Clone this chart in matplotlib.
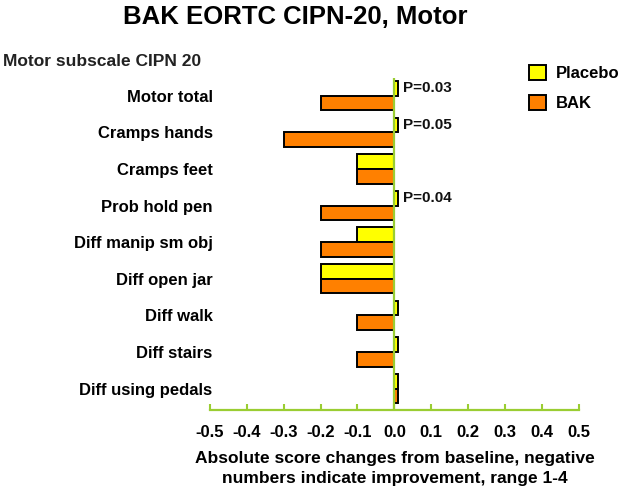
import matplotlib

matplotlib.use("Agg")
import matplotlib.pyplot as plt
from matplotlib.patches import Patch

plt.rcParams["font.family"] = ["Liberation Sans", "DejaVu Sans"]
plt.rcParams["font.weight"] = "bold"

categories = [
    "Motor total",
    "Cramps hands",
    "Cramps feet",
    "Prob hold pen",
    "Diff manip sm obj",
    "Diff open jar",
    "Diff walk",
    "Diff stairs",
    "Diff using pedals",
]
placebo = [0.01, 0.01, -0.1, 0.01, -0.1, -0.2, 0.01, 0.01, 0.01]
bak = [-0.2, -0.3, -0.1, -0.2, -0.2, -0.2, -0.1, -0.1, 0.01]
p_labels = {0: "P=0.03", 1: "P=0.05", 3: "P=0.04"}
xticks = [-0.5, -0.4, -0.3, -0.2, -0.1, 0.0, 0.1, 0.2, 0.3, 0.4, 0.5]

GREEN = "#9acd32"
YELLOW = "#ffff00"
ORANGE = "#ff8000"


def main():
    fig = plt.figure(figsize=(6.3, 4.98), dpi=100)
    fig.patch.set_facecolor("white")
    ax = fig.add_axes([0.333, 0.177, 0.586, 0.667])

    ypos = list(range(len(categories)))
    h = 0.4
    ax.barh([y - h / 2 for y in ypos], placebo, height=h, color=YELLOW,
            edgecolor="black", linewidth=1.4, zorder=2)
    ax.barh([y + h / 2 for y in ypos], bak, height=h, color=ORANGE,
            edgecolor="black", linewidth=1.4, zorder=2)
    ax.axvline(0, color=GREEN, lw=1.6, zorder=3)

    for i, txt in p_labels.items():
        ax.text(0.022, i - h / 2, txt, ha="left", va="center",
                fontsize=11, fontweight="bold", color="#111111")

    ax.set_xlim(-0.5, 0.5)
    ax.set_ylim(8.58, -0.49)
    ax.set_xticks(xticks)
    ax.set_xticklabels([f"{v:.1f}" for v in xticks], fontsize=12, fontweight="bold")
    ax.set_yticks(ypos)
    ax.set_yticklabels(categories, fontsize=12, fontweight="bold")
    ax.tick_params(axis="y", length=0, pad=-2)
    ax.tick_params(axis="x", direction="in", length=4, width=1.5,
                   color=GREEN, pad=11)
    for s in ["top", "right", "left"]:
        ax.spines[s].set_visible(False)
    ax.spines["bottom"].set_color(GREEN)
    ax.spines["bottom"].set_linewidth(1.6)

    ax.set_xlabel("Absolute score changes from baseline, negative\n"
                  "numbers indicate improvement, range 1-4",
                  fontsize=12.5, fontweight="bold", labelpad=8, linespacing=1.4)

    fig.text(0.468, 0.966, "BAK EORTC CIPN-20, Motor", ha="center", va="center",
             fontsize=18.5, fontweight="bold")
    fig.text(0.005, 0.877, "Motor subscale CIPN 20", ha="left", va="center",
             fontsize=12.5, fontweight="bold", color="#222222")

    handles = [Patch(facecolor=YELLOW, edgecolor="black", linewidth=1.4),
               Patch(facecolor=ORANGE, edgecolor="black", linewidth=1.4)]
    fig.legend(handles, ["Placebo", "BAK"], loc="upper left",
               bbox_to_anchor=(0.824, 0.89), frameon=False,
               prop={"size": 12, "weight": "bold"},
               handlelength=1.0, handleheight=1.0, handletextpad=0.6,
               labelspacing=0.85, borderaxespad=0.2)

    fig.savefig("out.png", dpi=100)


if __name__ == "__main__":
    main()
